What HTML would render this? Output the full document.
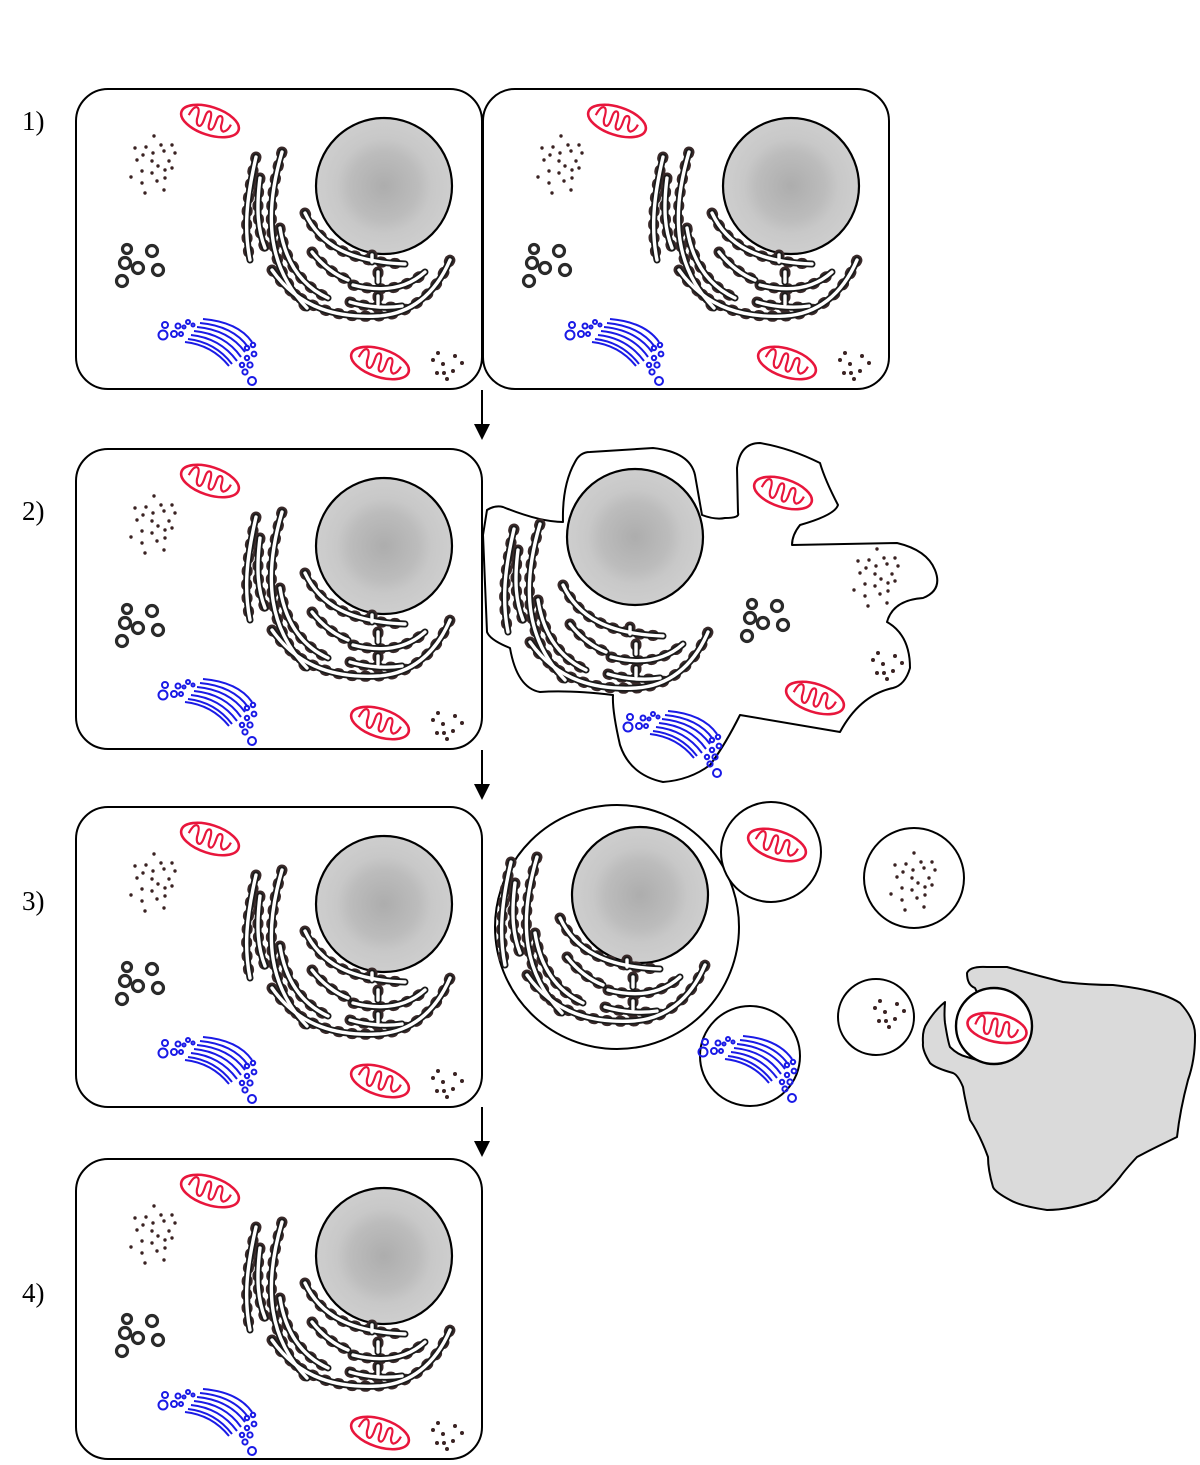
<!DOCTYPE html>
<html><head><meta charset="utf-8"><style>
html,body{margin:0;padding:0;background:#fff;}
svg{display:block;}
text{font-family:"Liberation Serif",serif;font-size:27px;fill:#000;}
</style></head><body>
<svg width="1200" height="1465" viewBox="0 0 1200 1465" xmlns="http://www.w3.org/2000/svg">
<defs>
<radialGradient id="ng" cx="50%" cy="50%" r="50%">
<stop offset="0" stop-color="#adadad"/><stop offset="0.5" stop-color="#bcbcbc"/><stop offset="0.7" stop-color="#c8c8c8"/><stop offset="1" stop-color="#cecece"/>
</radialGradient>
<g id="mito">
<ellipse cx="0" cy="0" rx="30" ry="14" fill="none" stroke="#e8163c" stroke-width="2.6"/>
<path d="M-22,1 Q-20,-10 -16,-9 Q-13,-8 -13,2 Q-12,8 -9,8 Q-6,8 -6,-2 Q-6,-9 -3,-9 Q0,-9 0,2 Q0,8 3,8 Q6,8 6,-2 Q6,-8 9,-8 Q12,-8 12,1 Q13,6 16,6 Q20,4 21,-3" fill="none" stroke="#e8163c" stroke-width="2.2"/>
</g>
<g id="nuc"><circle cx="384" cy="186" r="68" fill="url(#ng)" stroke="#000" stroke-width="2.2"/></g>
<g id="erpaths">
<path d="M256,157 C246,200 244,230 250,260"/>
<path d="M282,152 C262,220 270,270 307,308"/>
<path d="M260,178 C256,210 258,230 265,248"/>
<path d="M280,228 C285,260 300,285 328,298"/>
<path d="M305,213 C320,245 350,262 405,264"/>
<path d="M312,252 C322,265 335,275 348,280"/>
<path d="M353,285 C380,292 405,290 425,272"/>
<path d="M272,270 C300,310 340,318 378,316 C410,314 435,295 450,260"/>
<path d="M350,302 C370,308 390,308 402,306"/>
<path d="M372,255 L372,262"/>
<path d="M378,272 L378,282"/>
<path d="M378,296 L378,304"/>
</g>
<g id="er">
<use href="#erpaths" fill="none" stroke="#3a2a2a" stroke-width="11" stroke-dasharray="1.5 12" stroke-linecap="round"/>
<use href="#erpaths" fill="none" stroke="#1a1a1a" stroke-width="7" stroke-linecap="round"/>
<use href="#erpaths" fill="none" stroke="#fff" stroke-width="3.4" stroke-linecap="round"/>
</g>
<g id="ribo" fill="#3a2222">
<circle cx="154" cy="136" r="1.7"/><circle cx="135" cy="148" r="1.7"/><circle cx="146" cy="147" r="1.7"/><circle cx="161" cy="145" r="1.7"/><circle cx="172" cy="145" r="1.7"/><circle cx="153" cy="153" r="1.7"/><circle cx="164" cy="151" r="1.7"/><circle cx="175" cy="153" r="1.7"/><circle cx="137" cy="160" r="1.7"/><circle cx="143" cy="155" r="1.7"/><circle cx="152" cy="161" r="1.7"/><circle cx="169" cy="161" r="1.7"/><circle cx="158" cy="166" r="1.7"/><circle cx="165" cy="170" r="1.7"/><circle cx="172" cy="168" r="1.7"/><circle cx="142" cy="171" r="1.7"/><circle cx="152" cy="173" r="1.7"/><circle cx="131" cy="177" r="1.7"/><circle cx="142" cy="183" r="1.7"/><circle cx="157" cy="181" r="1.7"/><circle cx="165" cy="178" r="1.7"/><circle cx="145" cy="193" r="1.7"/><circle cx="164" cy="190" r="1.7"/>
</g>
<g id="ribo2" fill="#3a2222">
<circle cx="438" cy="353" r="2"/><circle cx="455" cy="356" r="2"/><circle cx="433" cy="360" r="2"/><circle cx="443" cy="364" r="2"/><circle cx="462" cy="363" r="2"/><circle cx="437" cy="373" r="2"/><circle cx="444" cy="373" r="2"/><circle cx="453" cy="371" r="2"/><circle cx="447" cy="379" r="2"/>
</g>
<g id="ves" fill="none" stroke="#2a2a2a" stroke-width="3.2">
<circle cx="127" cy="249" r="4.5"/><circle cx="152" cy="251" r="5.5"/><circle cx="125" cy="263" r="5.5"/><circle cx="138" cy="268" r="5.5"/><circle cx="158" cy="270" r="5.5"/><circle cx="122" cy="281" r="5.5"/>
</g>
<g id="golgi" fill="none" stroke="#1a1ae6" stroke-width="2">
<circle cx="163" cy="335" r="4.5"/><circle cx="165" cy="325" r="3"/><circle cx="174" cy="334" r="3"/><circle cx="178" cy="326" r="2.5"/><circle cx="181" cy="334" r="2"/><circle cx="188" cy="322" r="2"/><circle cx="184" cy="327" r="1.5"/><circle cx="193" cy="325" r="1.5"/>
<path d="M203,319 Q238,322 252,342"/><path d="M200,323 Q233,326 248,347"/><path d="M197,327 Q229,330 245,352"/><path d="M194,331 Q225,334 241,357"/><path d="M191,335 Q220,338 237,361"/><path d="M188,339 Q215,342 232,364"/><path d="M185,342 Q212,345 229,366"/>
<circle cx="253" cy="345" r="2.2"/><circle cx="247" cy="348" r="2.2"/><circle cx="254" cy="354" r="2.4"/><circle cx="247" cy="358" r="2.2"/><circle cx="250" cy="365" r="2.6"/><circle cx="242" cy="365" r="2.2"/><circle cx="245" cy="372" r="2.6"/><circle cx="252" cy="381" r="4"/>
</g>
<g id="cell">
<rect x="76" y="89" width="406" height="300" rx="32" fill="#fff" stroke="#000" stroke-width="2"/>
<use href="#mito" transform="translate(210,121) rotate(18)"/>
<use href="#mito" transform="translate(380,363) rotate(18)"/>
<use href="#nuc"/><use href="#er"/><use href="#ribo"/><use href="#ribo2"/><use href="#ves"/><use href="#golgi"/>
</g>
</defs>

<text x="22" y="130">1)</text>
<text x="22" y="520">2)</text>
<text x="22" y="910">3)</text>
<text x="22" y="1302">4)</text>

<use href="#cell"/>
<use href="#cell" transform="translate(407,0)"/>
<use href="#cell" transform="translate(0,360)"/>
<use href="#cell" transform="translate(0,718)"/>
<use href="#cell" transform="translate(0,1070)"/>

<g stroke="#000" stroke-width="2" fill="#000">
<line x1="482" y1="390" x2="482" y2="426"/><polygon points="474,424 490,424 482,440" stroke="none"/>
<line x1="482" y1="750" x2="482" y2="786"/><polygon points="474,784 490,784 482,800" stroke="none"/>
<line x1="482" y1="1107" x2="482" y2="1143"/><polygon points="474,1141 490,1141 482,1157" stroke="none"/>
</g>

<path d="M487,510 Q495,505 503,507 Q540,522 563,522 Q562,485 575,462 Q580,452 590,452 L653,448 Q690,452 695,475 L702,515 Q715,520 725,518 Q740,518 738,513 L737,468 Q740,443 760,443 Q790,448 820,463 Q825,480 838,505 Q835,515 800,525 Q792,535 792,545 L897,543 Q927,550 935,570 Q943,590 923,598 Q893,600 887,622 Q910,635 910,668 Q905,685 893,688 Q860,695 840,732 Q780,722 740,715 Q725,745 710,765 Q690,780 663,782 Q630,775 620,745 Q612,710 613,695 Q570,690 540,692 Q517,688 510,648 Q490,640 487,632 L483,535 Z" fill="#fff" stroke="#000" stroke-width="2" stroke-linejoin="round"/>
<use href="#nuc" transform="translate(251,351)"/>
<use href="#er" transform="translate(258,372)"/>
<use href="#golgi" transform="translate(465,392)"/>
<use href="#ves" transform="translate(625,355)"/>
<use href="#ribo" transform="translate(723,413)"/>
<use href="#ribo2" transform="translate(440,300)"/>
<use href="#mito" transform="translate(783,493) rotate(18)"/>
<use href="#mito" transform="translate(815,698) rotate(18)"/>

<circle cx="617" cy="927" r="122" fill="#fff" stroke="#000" stroke-width="2"/>
<use href="#nuc" transform="translate(256,709)"/>
<use href="#er" transform="translate(255,705)"/>
<circle cx="771" cy="852" r="50" fill="#fff" stroke="#000" stroke-width="2"/>
<use href="#mito" transform="translate(777,845) rotate(18)"/>
<circle cx="914" cy="878" r="50" fill="#fff" stroke="#000" stroke-width="2"/>
<use href="#ribo" transform="translate(760,717)"/>
<circle cx="750" cy="1056" r="50" fill="#fff" stroke="#000" stroke-width="2"/>
<use href="#golgi" transform="translate(540,717)"/>
<circle cx="876" cy="1017" r="38" fill="#fff" stroke="#000" stroke-width="2"/>
<use href="#ribo2" transform="translate(442,648)"/>

<path d="M967,973 Q970,966 987,967 L1007,967 Q1035,975 1063,982 Q1090,985 1113,985 Q1160,990 1180,1003 Q1196,1020 1195,1037 Q1195,1060 1188,1080 Q1180,1110 1177,1137 Q1150,1150 1137,1157 Q1125,1170 1120,1177 Q1110,1190 1097,1200 Q1070,1210 1047,1210 Q1020,1206 1010,1200 Q995,1192 993,1187 Q988,1170 988,1157 Q980,1135 970,1120 Q965,1100 963,1087 Q958,1075 953,1073 Q935,1068 930,1063 Q922,1050 923,1043 Q922,1030 927,1023 Q935,1010 945,1002 Q944,1015 945,1023 Q948,1042 950,1047 Q958,1055 967,1057 L987,1063 L993,1027 L975,988 Q967,985 967,973 Z" fill="#dadada" stroke="#000" stroke-width="2" stroke-linejoin="round"/>
<circle cx="994" cy="1026" r="38" fill="#fff" stroke="#000" stroke-width="2.4"/>
<use href="#mito" transform="translate(997,1028) rotate(12)"/>
</svg>
</body></html>
